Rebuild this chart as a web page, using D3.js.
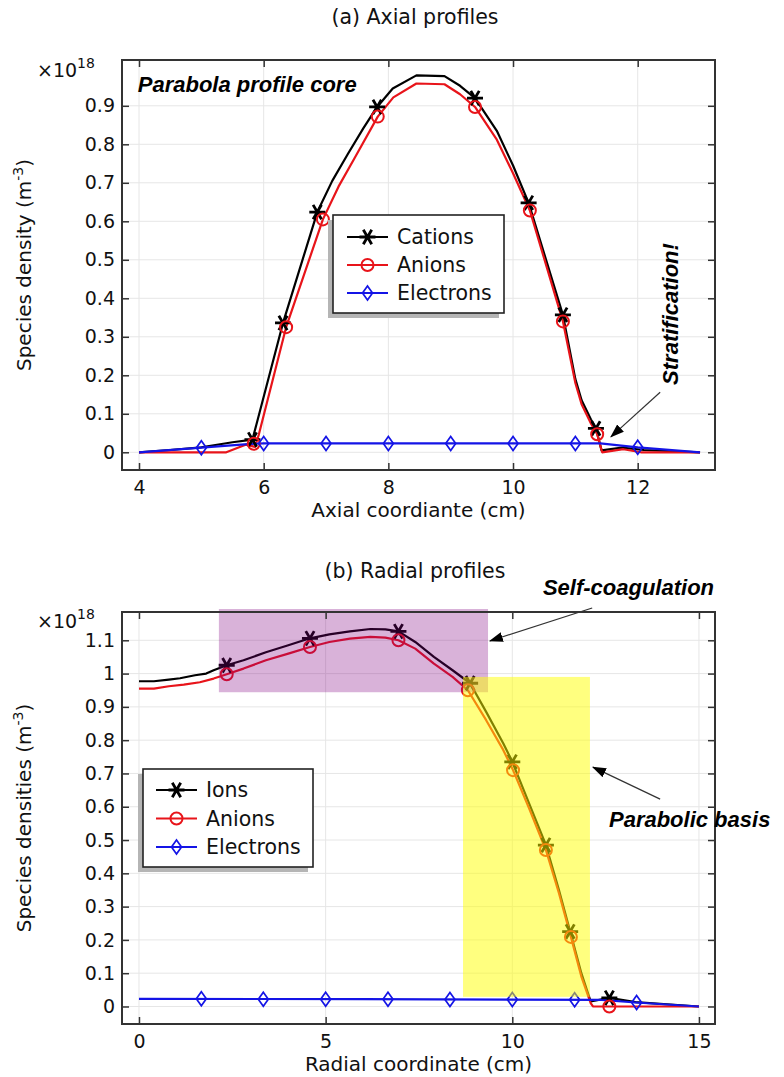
<!DOCTYPE html>
<html>
<head>
<meta charset="utf-8">
<script src="https://cdn.jsdelivr.net/npm/d3@7"></script>
<style>
  body { margin: 0; background: #fff; }
  svg text { font-family: "DejaVu Sans", sans-serif; fill: #111; }
  svg text.note { font-family: "Liberation Sans", Arial, sans-serif; font-weight: bold; font-style: italic; fill: #000; }
</style>
</head>
<body>
<svg id="fig" width="784" height="1077"></svg>
<script>
// ---------- (a) axial profiles: [axial coordinate (cm), density (1e18 m^-3)] ----------
const axialCations = [[4.0,0.0],[4.5,0.006],[5.0,0.013],[5.5,0.026],[5.82,0.033],[6.31,0.336],[6.86,0.624],[7.1,0.705],[7.35,0.775],[7.6,0.842],[7.82,0.897],[8.07,0.945],[8.45,0.979],[8.9,0.977],[9.15,0.952],[9.39,0.92],[9.74,0.835],[10.0,0.745],[10.25,0.648],[10.8,0.357],[11.0,0.19],[11.1,0.135],[11.25,0.085],[11.33,0.062],[11.42,0.005],[11.75,0.012],[12.1,0.006],[13.0,0.0]];
const axialCationMarks = [[5.82,0.033],[6.31,0.336],[6.86,0.624],[7.82,0.897],[9.39,0.92],[10.25,0.648],[10.8,0.357],[11.33,0.062]];
const axialAnions = [[4.0,0.0],[5.4,0.0],[5.72,0.02],[5.86,0.014],[5.92,0.045],[6.36,0.325],[6.95,0.605],[7.2,0.69],[7.45,0.762],[7.83,0.872],[8.08,0.922],[8.45,0.958],[8.9,0.956],[9.15,0.93],[9.39,0.897],[9.74,0.812],[10.0,0.725],[10.27,0.628],[10.8,0.34],[11.0,0.18],[11.1,0.125],[11.25,0.075],[11.35,0.047],[11.43,0.0],[11.77,0.008],[12.05,0.0],[13.0,0.0]];
const axialAnionMarks = [[5.84,0.022],[6.36,0.325],[6.95,0.605],[7.83,0.872],[9.39,0.897],[10.27,0.628],[10.8,0.34],[11.35,0.047]];
const axialElectrons = [[4.0,0.0],[5.0,0.012],[5.8,0.022],[6.0,0.023],[11.4,0.023],[12.0,0.013],[13.0,0.0]];
const axialElectronMarks = [[5,0.012],[6,0.023],[7,0.023],[8,0.023],[9,0.023],[10,0.023],[11,0.023],[12,0.013]];
const axialXTicks = [4, 6, 8, 10, 12];
const axialYTicks = [0, 0.1, 0.2, 0.3, 0.4, 0.5, 0.6, 0.7, 0.8, 0.9];
const axialLegend = ["Cations", "Anions", "Electrons"];

// ---------- (b) radial profiles: [radial coordinate (cm), density (1e18 m^-3)] ----------
const radialIons = [[0,0.977],[0.4,0.977],[0.8,0.982],[1.1,0.986],[1.5,0.995],[1.8,1.0],[2.0,1.01],[2.35,1.025],[2.8,1.04],[3.4,1.064],[4.0,1.085],[4.58,1.106],[5.1,1.118],[5.65,1.127],[6.2,1.134],[6.6,1.133],[6.95,1.127],[7.4,1.095],[7.9,1.05],[8.4,1.01],[8.87,0.971],[9.3,0.885],[9.76,0.79],[10.0,0.735],[10.45,0.61],[10.9,0.485],[11.25,0.35],[11.55,0.225],[11.85,0.1],[12.1,0.015],[12.6,0.026],[13.3,0.013],[15,0]];
const radialIonMarks = [[2.35,1.025],[4.58,1.106],[6.95,1.127],[8.87,0.971],[10.0,0.735],[10.9,0.485],[11.55,0.225],[12.6,0.026]];
const radialAnions = [[0,0.955],[0.4,0.955],[0.8,0.962],[1.2,0.967],[1.63,0.974],[2.0,0.985],[2.35,0.998],[2.8,1.015],[3.4,1.04],[4.0,1.06],[4.58,1.08],[5.1,1.095],[5.65,1.105],[6.2,1.11],[6.6,1.108],[6.95,1.1],[7.4,1.075],[7.9,1.03],[8.4,0.99],[8.81,0.95],[9.3,0.86],[9.76,0.77],[10.02,0.71],[10.45,0.595],[10.9,0.47],[11.25,0.34],[11.57,0.209],[11.85,0.09],[12.1,0.01],[12.16,0.0],[15,0]];
const radialAnionMarks = [[2.35,0.998],[4.58,1.08],[6.95,1.1],[8.81,0.95],[10.02,0.71],[10.9,0.47],[11.57,0.209],[12.6,0.0]];
const radialElectrons = [[0,0.023],[6,0.022],[12.4,0.02],[13.3,0.012],[15,0]];
const radialElectronMarks = [[1.67,0.023],[3.33,0.022],[5,0.022],[6.67,0.022],[8.33,0.021],[10,0.021],[11.67,0.02],[13.33,0.012]];
const radialXTicks = [0, 5, 10, 15];
const radialYTicks = [0, 0.1, 0.2, 0.3, 0.4, 0.5, 0.6, 0.7, 0.8, 0.9, 1, 1.1];
const radialLegend = ["Ions", "Anions", "Electrons"];

// highlighted regions of the radial profile: [x0, x1, y0, y1]
const coagulationZone = [2.14, 9.35, 0.944, 1.194];
const basisZone = [8.68, 12.08, 0.029, 0.99];

const BLACK = "#000", RED = "#e8141a", BLUE = "#1414e6";
const svg = d3.select("#fig");

// arrowhead for annotation callouts
svg.append("defs").append("marker")
  .attr("id", "head").attr("viewBox", "0 0 14 10").attr("refX", 13).attr("refY", 5)
  .attr("markerWidth", 14).attr("markerHeight", 10).attr("markerUnits", "userSpaceOnUse")
  .attr("orient", "auto")
  .append("path").attr("d", "M0,0 L14,5 L0,10 Z").attr("fill", "#000");

const fmt = d3.format("~g");

function markerPath(kind) {
  if (kind === "star") return "M-8,0L8,0M-4.2,-7.2L4.2,7.2M-4.2,7.2L4.2,-7.2";
  if (kind === "circle") return "M6,0A6,6 0 1,1 -6,0A6,6 0 1,1 6,0Z";
  return "M0,-7L5,0L0,7L-5,0Z";
}
function markerWidth(kind) {
  return kind === "star" ? 2.8 : (kind === "circle" ? 2 : 1.7);
}

function drawMarks(g, pts, kind, color, x, y) {
  g.selectAll(null).data(pts).join("path")
    .attr("transform", d => `translate(${x(d[0])},${y(d[1])})`)
    .attr("d", markerPath(kind))
    .attr("fill", "none").attr("stroke", color)
    .attr("stroke-width", markerWidth(kind));
}

function panel(o) {
  const g = svg.append("g");
  const x = d3.scaleLinear().domain(o.xDom).range([o.left, o.right]);
  const y = d3.scaleLinear().domain(o.yDom).range([o.bottom, o.top]);

  // title
  g.append("text").attr("x", 415).attr("y", o.titleY).attr("text-anchor", "middle")
    .attr("font-size", 20.5).text(o.title);

  // grid
  g.append("g").selectAll("line").data(o.xTicks).join("line")
    .attr("x1", d => x(d)).attr("x2", d => x(d)).attr("y1", o.top).attr("y2", o.bottom)
    .attr("stroke", "#e6e6e6").attr("stroke-width", 1);
  g.append("g").selectAll("line").data(o.yTicks).join("line")
    .attr("y1", d => y(d)).attr("y2", d => y(d)).attr("x1", o.left).attr("x2", o.right)
    .attr("stroke", "#e6e6e6").attr("stroke-width", 1);

  // curves and their markers
  const line = d3.line().x(d => x(d[0])).y(d => y(d[1]));
  o.series.forEach(s => {
    g.append("path").datum(s.values).attr("d", line)
      .attr("fill", "none").attr("stroke", s.color).attr("stroke-width", 2.2)
      .attr("stroke-linejoin", "round");
  });
  o.series.forEach(s => drawMarks(g, s.marks, s.kind, s.color, x, y));

  // translucent highlight regions
  (o.zones || []).forEach(z => {
    g.append("rect")
      .attr("x", x(z.box[0])).attr("width", x(z.box[1]) - x(z.box[0]))
      .attr("y", y(z.box[3])).attr("height", y(z.box[2]) - y(z.box[3]))
      .attr("fill", z.color).attr("fill-opacity", z.opacity);
  });

  // axes: labelled left/bottom, tick-only top/right, ticks pointing inward
  const ax = [
    [d3.axisLeft(y).tickValues(o.yTicks).tickFormat(fmt), `translate(${o.left},0)`],
    [d3.axisBottom(x).tickValues(o.xTicks).tickFormat(fmt), `translate(0,${o.bottom})`],
    [d3.axisRight(y).tickValues(o.yTicks).tickFormat(""), `translate(${o.right},0)`],
    [d3.axisTop(x).tickValues(o.xTicks).tickFormat(""), `translate(0,${o.top})`]
  ];
  ax.forEach(([a, tr], i) => {
    const ag = g.append("g").attr("transform", tr)
      .call(a.tickSizeInner(-7).tickSizeOuter(0).tickPadding(i === 1 ? 11 : 7));
    ag.select(".domain").remove();
    ag.selectAll(".tick line").attr("stroke", "#333").attr("stroke-width", 1.5);
    ag.selectAll(".tick text").attr("font-family", "DejaVu Sans").attr("font-size", 19).attr("fill", "#111");
  });
  g.append("rect").attr("x", o.left).attr("y", o.top)
    .attr("width", o.right - o.left).attr("height", o.bottom - o.top)
    .attr("fill", "none").attr("stroke", "#333").attr("stroke-width", 2);

  // scale factor
  const sf = g.append("text").attr("x", 37).attr("y", o.top + o.scaleDy).attr("font-size", 19);
  sf.append("tspan").text("\u00d710");
  sf.append("tspan").attr("font-size", 14).attr("dy", -9).text("18");

  // axis titles
  g.append("text").attr("x", (o.left + o.right) / 2).attr("y", o.bottom + o.xTitleDy)
    .attr("text-anchor", "middle").attr("font-size", 20).text(o.xTitle);
  const yt = g.append("text")
    .attr("transform", `translate(31,${(o.top + o.bottom) / 2}) rotate(-90)`)
    .attr("text-anchor", "middle").attr("font-size", 20);
  yt.append("tspan").text(o.yTitle + " (m");
  yt.append("tspan").attr("font-size", 14).attr("dy", -8).text("-3");
  yt.append("tspan").attr("dy", 8).text(")");

  // legend with drop shadow
  const L = o.legend;
  g.append("rect").attr("x", L.x - 5).attr("y", L.y + 5).attr("width", L.w).attr("height", L.h)
    .attr("fill", "#b5b5b5");
  g.append("rect").attr("x", L.x).attr("y", L.y).attr("width", L.w).attr("height", L.h)
    .attr("fill", "#fff").attr("stroke", "#222").attr("stroke-width", 1.6);
  o.series.forEach((s, i) => {
    const cy = L.y + L.row0 + i * L.step;
    g.append("line").attr("x1", L.x + L.lx0).attr("x2", L.x + L.lx0 + 41)
      .attr("y1", cy).attr("y2", cy).attr("stroke", s.color).attr("stroke-width", 2.2);
    g.append("path").attr("transform", `translate(${L.x + L.lx0 + 20.5},${cy})`)
      .attr("d", markerPath(s.kind)).attr("fill", "none").attr("stroke", s.color)
      .attr("stroke-width", markerWidth(s.kind));
    g.append("text").attr("x", L.x + L.tx).attr("y", cy).attr("dy", "0.36em")
      .attr("font-size", 20.5).text(o.legendLabels[i]);
  });

  // annotations
  (o.notes || []).forEach(n => {
    const t = g.append("text").attr("class", "note").attr("font-size", 22);
    if (n.rotate) {
      t.attr("transform", `translate(${x(n.at[0])},${y(n.at[1])}) rotate(-90)`);
    } else {
      t.attr("x", x(n.at[0])).attr("y", y(n.at[1]));
    }
    t.text(n.text);
    if (n.arrow) {
      g.append("line")
        .attr("x1", x(n.arrow[0])).attr("y1", y(n.arrow[1]))
        .attr("x2", x(n.arrow[2])).attr("y2", y(n.arrow[3]))
        .attr("stroke", "#333").attr("stroke-width", 1.2).attr("marker-end", "url(#head)");
    }
  });
}

panel({
  title: "(a) Axial profiles", titleY: 24,
  left: 122, right: 715, top: 60, bottom: 470,
  xDom: [3.727, 13.24], yDom: [-0.046, 1.019],
  xTicks: axialXTicks, yTicks: axialYTicks,
  xTitle: "Axial coordiante (cm)", xTitleDy: 47, yTitle: "Species density", scaleDy: 17,
  series: [
    { values: axialCations, marks: axialCationMarks, color: BLACK, kind: "star" },
    { values: axialAnions, marks: axialAnionMarks, color: RED, kind: "circle" },
    { values: axialElectrons, marks: axialElectronMarks, color: BLUE, kind: "diamond" }
  ],
  legendLabels: axialLegend,
  legend: { x: 333, y: 215, w: 171, h: 98, row0: 22, step: 28, lx0: 14, tx: 64 },
  notes: [
    { text: "Parabola profile core", at: [3.98, 0.936] },
    { text: "Stratification!", at: [12.65, 0.175], rotate: true, arrow: [12.36, 0.156, 11.57, 0.04] }
  ]
});

panel({
  title: "(b) Radial profiles", titleY: 578,
  left: 122, right: 715, top: 612, bottom: 1024,
  xDom: [-0.455, 15.43], yDom: [-0.0526, 1.185],
  xTicks: radialXTicks, yTicks: radialYTicks,
  xTitle: "Radial coordinate (cm)", xTitleDy: 47, yTitle: "Species densities", scaleDy: 16,
  series: [
    { values: radialIons, marks: radialIonMarks, color: BLACK, kind: "star" },
    { values: radialAnions, marks: radialAnionMarks, color: RED, kind: "circle" },
    { values: radialElectrons, marks: radialElectronMarks, color: BLUE, kind: "diamond" }
  ],
  zones: [
    { box: coagulationZone, color: "#800080", opacity: 0.3 },
    { box: basisZone, color: "#ffff00", opacity: 0.5 }
  ],
  legendLabels: radialLegend,
  legend: { x: 143, y: 769, w: 170, h: 98, row0: 21, step: 28.5, lx0: 13, tx: 63 },
  notes: [
    { text: "Self-coagulation", at: [10.82, 1.236], arrow: [12.14, 1.197, 9.40, 1.098] },
    { text: "Parabolic basis", at: [12.59, 0.539], arrow: [13.96, 0.623, 12.16, 0.719] }
  ]
});
</script>
</body>
</html>
